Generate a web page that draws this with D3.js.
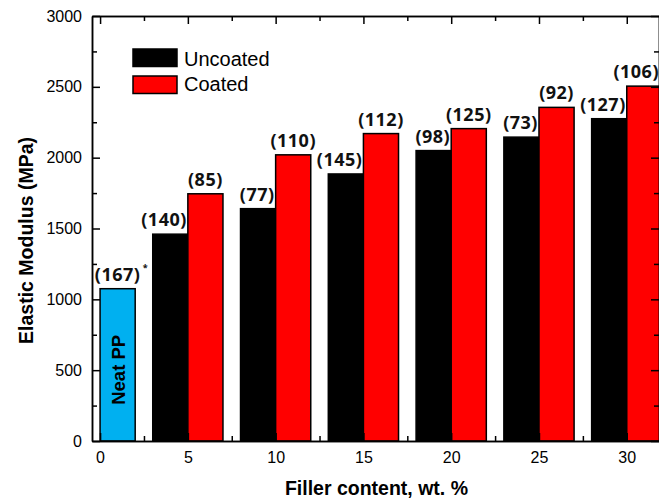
<!DOCTYPE html>
<html><head><meta charset="utf-8">
<script src="https://cdn.jsdelivr.net/npm/d3@7/dist/d3.min.js"></script>
<style>body{margin:0;background:#fff}</style>
</head><body><svg id="c" width="659" height="504"></svg>
<script>
// ---- data ----
const categories = [5, 10, 15, 20, 25, 30];
const uncoated = [1460, 1640, 1885, 2050, 2145, 2275];
const coated = [1745, 2020, 2170, 2205, 2355, 2505];
const uncoatedSD = [140, 77, 145, 98, 73, 127];
const coatedSD = [85, 110, 112, 125, 92, 106];
const neatCategory = 0;
const neatValue = 1075;
const neatSD = 167;
const xTickValues = [0, 5, 10, 15, 20, 25, 30];
const xMinorValues = [2.5, 7.5, 12.5, 17.5, 22.5, 27.5];
const yTickValues = [0, 500, 1000, 1500, 2000, 2500, 3000];
const yMinorValues = [250, 750, 1250, 1750, 2250, 2750];
const seriesNames = ["Uncoated", "Coated"];
const colors = {uncoated: "#000000", coated: "#ff0000", neat: "#00b0f0"};

// ---- layout ----
const W = 659, L = 92, R = 661, T = 16, B = 441;
const barW = 2;
const svg = d3.select("#c");
const x = d3.scaleLinear().domain([-0.46, 31.95]).range([L, R]);
const y = d3.scaleLinear().domain([0, 3000]).range([B, T]);

const labelFont = "'Open Sans', sans-serif";
const axisFont = "'Liberation Sans', Arial, sans-serif";

// bars
const g = svg.append("g");
g.append("rect").attr("x", x(neatCategory)).attr("y", y(neatValue))
  .attr("width", x(neatCategory + barW) - x(neatCategory)).attr("height", y(0) - y(neatValue))
  .attr("fill", colors.neat).attr("stroke", "#000").attr("stroke-width", 1.5);
categories.forEach((c, i) => {
  g.append("rect").attr("x", x(c - barW)).attr("y", y(uncoated[i]))
    .attr("width", x(c) - x(c - barW)).attr("height", y(0) - y(uncoated[i]))
    .attr("fill", colors.uncoated).attr("stroke", "#000").attr("stroke-width", 1.5);
  g.append("rect").attr("x", x(c)).attr("y", y(coated[i]))
    .attr("width", x(c + barW) - x(c)).attr("height", y(0) - y(coated[i]))
    .attr("fill", colors.coated).attr("stroke", "#000").attr("stroke-width", 1.5);
});

// labels
function lab(cx, v, sd, maxRight) {
  const t = svg.append("text").attr("y", y(v) - 8).attr("text-anchor", "middle")
    .attr("font-family", labelFont).attr("font-weight", 700).attr("font-size", 18)
    .attr("letter-spacing", 0.5).attr("fill", "#111").text("(" + sd + ")");
  const w = t.node().getComputedTextLength();
  let c = cx;
  if (c + w / 2 > maxRight) c = maxRight - w / 2;
  t.attr("x", c);
}
categories.forEach((c, i) => {
  lab(x(c - barW / 2), uncoated[i], uncoatedSD[i], x(c) - 1);
  lab(x(c + barW / 2), coated[i], coatedSD[i], W);
});
lab(x(neatCategory + barW / 2), neatValue, neatSD, W);
svg.append("text").attr("x", x(neatCategory + barW / 2) + 25).attr("y", y(neatValue) - 18)
  .attr("font-family", labelFont).attr("font-weight", 700).attr("font-size", 9).attr("fill", "#111").text("*");
svg.append("text").attr("transform", `translate(${x(neatCategory + barW / 2) + 7},${(y(0) + y(neatValue)) / 2 + 5}) rotate(-90)`)
  .attr("text-anchor", "middle").attr("font-family", axisFont).attr("font-weight", 700)
  .attr("font-size", 18.5).attr("fill", "#000").text("Neat PP");

// axes
function style(sel) {
  sel.select(".domain").attr("stroke-width", 1.5);
  sel.selectAll(".tick line").attr("stroke-width", 1.5);
  sel.selectAll("text").attr("font-family", axisFont).attr("font-size", 16).attr("fill", "#000");
}
const ax = svg.append("g");
ax.append("g").attr("transform", `translate(0,${B})`)
  .call(d3.axisBottom(x).tickValues(xTickValues).tickFormat(d3.format("d")).tickSize(-8).tickSizeOuter(0).tickPadding(10.5)).call(style);
ax.append("g").attr("transform", `translate(0,${B})`)
  .call(d3.axisBottom(x).tickValues(xMinorValues).tickFormat("").tickSize(-5).tickSizeOuter(0)).call(style);
ax.append("g").attr("transform", `translate(0,${T})`)
  .call(d3.axisTop(x).tickValues(xTickValues).tickFormat("").tickSize(-8).tickSizeOuter(0)).call(style);
ax.append("g").attr("transform", `translate(0,${T})`)
  .call(d3.axisTop(x).tickValues(xMinorValues).tickFormat("").tickSize(-5).tickSizeOuter(0)).call(style);
ax.append("g").attr("transform", `translate(${L},0)`)
  .call(d3.axisLeft(y).tickValues(yTickValues).tickFormat(d3.format("d")).tickSize(-8).tickSizeOuter(0).tickPadding(10)).call(style);
ax.append("g").attr("transform", `translate(${L},0)`)
  .call(d3.axisLeft(y).tickValues(yMinorValues).tickFormat("").tickSize(-5).tickSizeOuter(0)).call(style);
ax.append("g").attr("transform", `translate(${R - 2},0)`)
  .call(d3.axisRight(y).tickValues(yTickValues).tickFormat("").tickSize(-8).tickSizeOuter(0)).call(style);
ax.append("g").attr("transform", `translate(${R - 2},0)`)
  .call(d3.axisRight(y).tickValues(yMinorValues).tickFormat("").tickSize(-5).tickSizeOuter(0)).call(style);

// axis titles
svg.append("text").attr("x", (L + W) / 2 + 1).attr("y", 495).attr("text-anchor", "middle")
  .attr("font-family", axisFont).attr("font-weight", 700).attr("font-size", 19.5).text("Filler content, wt. %");
svg.append("text").attr("transform", `translate(33,${(T + B) / 2 + 12}) rotate(-90)`).attr("text-anchor", "middle")
  .attr("font-family", axisFont).attr("font-weight", 700).attr("font-size", 19.5).text("Elastic Modulus (MPa)");

// legend
const leg = svg.append("g");
[colors.uncoated, colors.coated].forEach((col, i) => {
  leg.append("rect").attr("x", 133).attr("y", 49 + i * 27).attr("width", 44).attr("height", 17.5)
    .attr("fill", col).attr("stroke", "#000").attr("stroke-width", 1.5);
  leg.append("text").attr("x", 184).attr("y", 66 + i * 25).attr("font-family", axisFont)
    .attr("font-size", 20).attr("fill", "#000").text(seriesNames[i]);
});
</script></body></html>
